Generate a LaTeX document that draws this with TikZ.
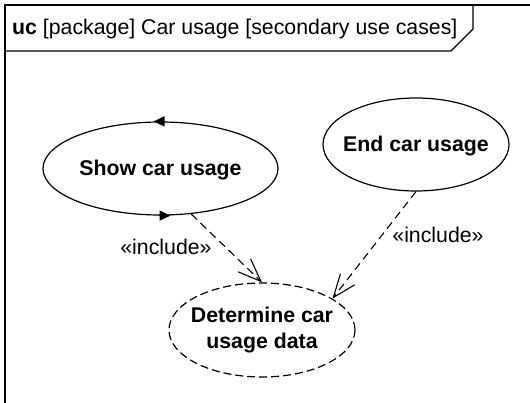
\documentclass[tikz,border=0pt]{standalone}
\usepackage{fontspec}
\setmainfont{Liberation Sans}
\usetikzlibrary{shapes.geometric,arrows.meta}
\begin{document}
\begin{tikzpicture}[x=1pt,y=-1pt,
  usecase/.style={ellipse,draw,line width=1.2pt,inner sep=0pt,font=\fontsize{21.3}{26}\selectfont\bfseries},
  lbl/.style={font=\fontsize{21.3}{25}\selectfont,inner sep=0pt,anchor=base},
  incl/.style={draw,line width=1.1pt,dash pattern=on 8pt off 5pt,-{Straight Barb[length=23pt,width=18pt,line width=1.1pt]}},
  cyc/.style={-{Triangle[length=11pt,width=10pt]},line width=1.2pt}
]
\useasboundingbox (0,0) rectangle (530,403);
\fill[white] (0,0) rectangle (530,403);
% frame
\coordinate (fbl) at (5,403);
\coordinate (ftl) at (5,5);
\coordinate (ftr) at (530,5);
\draw[line width=1.8pt] (fbl) -- (ftl) -- (ftr);
\coordinate (h1) at (5,51);
\coordinate (h2) at (451,51);
\coordinate (h3) at (473,29);
\coordinate (h4) at (473,5);
\draw[line width=1.3pt] (h1) -- (h2) -- (h3) -- (h4);
\node[lbl,anchor=base west] (title) at (12,35) {\textbf{uc} [package] Car usage [secondary use cases]};
% use cases
\node[usecase,minimum width=235pt,minimum height=93pt,text height=15pt,text depth=0pt] (show) at (160.5,168.5) {\makebox[0pt][c]{Show car usage}};
\node[usecase,minimum width=186pt,minimum height=93pt,text height=15pt,text depth=0pt] (endu) at (416,144.5) {\makebox[0pt][c]{End car usage}};
\node[usecase,dash pattern=on 8pt off 4pt,minimum width=186pt,minimum height=94pt] (det) at (262,330) {\makebox[0pt][c]{\begin{tabular}{@{}c@{}}Determine car\\usage data\end{tabular}}};
% cycle arrows on Show car usage
\draw[cyc] ([xshift=4pt]show.north) -- ([xshift=-7pt]show.north);
\draw[cyc] ([xshift=-2pt]show.south) -- ([xshift=10pt]show.south);
% includes
\draw[incl] (show.-56) -- (det.north);
\draw[incl] (endu.south) -- (det.24);
\node[lbl] (inc1) at (166,255) {«include»};
\node[lbl] (inc2) at (438,243) {«include»};
\end{tikzpicture}
\end{document}
